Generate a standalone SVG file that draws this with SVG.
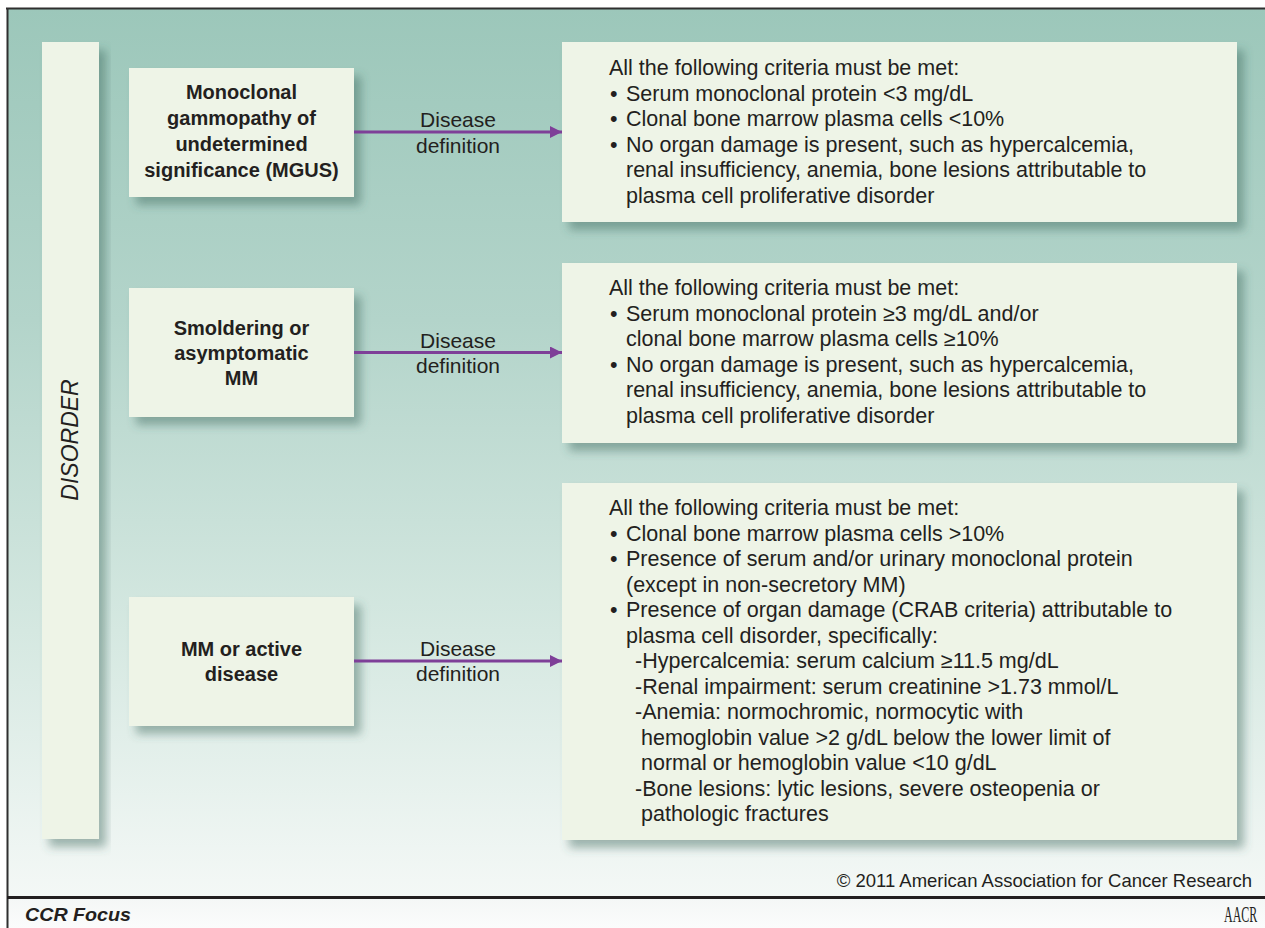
<svg xmlns="http://www.w3.org/2000/svg" width="1265" height="928" viewBox="0 0 1265 928">
  <style>
    .box { fill: #eef4e7; }
    .node-label { font-family: "Liberation Sans", Arial, sans-serif; font-size: 20px; font-weight: bold; fill: #231f20; text-anchor: middle; }
    .edge-label { font-family: "Liberation Sans", Arial, sans-serif; font-size: 21px; fill: #231f20; text-anchor: middle; }
    .crit { font-family: "Liberation Sans", Arial, sans-serif; font-size: 21.5px; fill: #231f20; }
    .conn { stroke: #7e3f98; stroke-width: 3; fill: none; }
  </style>
  <defs>
    <linearGradient id="bg" x1="0" y1="0" x2="0" y2="1">
      <stop offset="0" stop-color="#9cc7ba"/>
      <stop offset="0.35" stop-color="#b3d4ca"/>
      <stop offset="0.7" stop-color="#d5e8e1"/>
      <stop offset="1" stop-color="#f4f8f6"/>
    </linearGradient>
    <linearGradient id="foot" x1="0" y1="0" x2="0" y2="1">
      <stop offset="0" stop-color="#f4f7f6"/>
      <stop offset="1" stop-color="#fbfcfc"/>
    </linearGradient>
    <filter id="shadow" x="-20%" y="-20%" width="140%" height="140%">
      <feDropShadow dx="7" dy="8" stdDeviation="5" flood-color="#3b665c" flood-opacity="0.45"/>
    </filter>
    <marker id="arrow" markerUnits="userSpaceOnUse" markerWidth="14" markerHeight="14" refX="12" refY="6" orient="auto">
      <path d="M0,0 L12,6 L0,12 z" fill="#7e3f98"/>
    </marker>
  </defs>

  <!-- background and frame -->
  <rect x="0" y="0" width="1265" height="928" fill="#ffffff"/>
  <rect x="7" y="8" width="1258" height="890" fill="url(#bg)"/>
  <rect x="7" y="898" width="1258" height="30" fill="url(#foot)"/>
  <line x1="6" y1="8.5" x2="1265" y2="8.5" stroke="#2f2f2f" stroke-width="2"/>
  <line x1="7.5" y1="8" x2="7.5" y2="928" stroke="#2f2f2f" stroke-width="2"/>
  <line x1="7" y1="897.5" x2="1265" y2="897.5" stroke="#231f20" stroke-width="3"/>

  <!-- DISORDER bar -->
  <g id="disorder">
    <rect class="box" x="42" y="42" width="57" height="797" filter="url(#shadow)"/>
    <text transform="translate(78,440) rotate(-90)" font-family="'Liberation Sans', Arial, sans-serif" font-size="23" font-style="italic" fill="#231f20" text-anchor="middle">DISORDER</text>
  </g>

  <!-- left nodes -->
  <g id="mgus">
    <rect class="box" x="129" y="68" width="225" height="129" filter="url(#shadow)"/>
    <text class="node-label" x="241.5" y="99">Monoclonal</text>
    <text class="node-label" x="241.5" y="125">gammopathy of</text>
    <text class="node-label" x="241.5" y="151">undetermined</text>
    <text class="node-label" x="241.5" y="177">significance (MGUS)</text>
  </g>
  <g id="smoldering">
    <rect class="box" x="129" y="288" width="225" height="129" filter="url(#shadow)"/>
    <text class="node-label" x="241.5" y="335">Smoldering or</text>
    <text class="node-label" x="241.5" y="360">asymptomatic</text>
    <text class="node-label" x="241.5" y="385">MM</text>
  </g>
  <g id="active">
    <rect class="box" x="129" y="597" width="225" height="129" filter="url(#shadow)"/>
    <text class="node-label" x="241.5" y="656">MM or active</text>
    <text class="node-label" x="241.5" y="681">disease</text>
  </g>

  <!-- criteria nodes -->
  <g id="criteria-mgus">
    <rect class="box" x="562" y="42" width="675" height="180" filter="url(#shadow)"/>
    <text class="crit" x="609" y="75">All the following criteria must be met:</text>
    <text class="crit" x="610" y="100.6">•</text><text class="crit" x="626" y="100.6">Serum monoclonal protein &lt;3 mg/dL</text>
    <text class="crit" x="610" y="126.2">•</text><text class="crit" x="626" y="126.2">Clonal bone marrow plasma cells &lt;10%</text>
    <text class="crit" x="610" y="151.8">•</text><text class="crit" x="626" y="151.8">No organ damage is present, such as hypercalcemia,</text>
    <text class="crit" x="626" y="177.4">renal insufficiency, anemia, bone lesions attributable to</text>
    <text class="crit" x="626" y="203">plasma cell proliferative disorder</text>
  </g>
  <g id="criteria-smoldering">
    <rect class="box" x="562" y="263" width="675" height="180" filter="url(#shadow)"/>
    <text class="crit" x="609" y="295">All the following criteria must be met:</text>
    <text class="crit" x="610" y="320.6">•</text><text class="crit" x="626" y="320.6">Serum monoclonal protein ≥3 mg/dL and/or</text>
    <text class="crit" x="626" y="346.2">clonal bone marrow plasma cells ≥10%</text>
    <text class="crit" x="610" y="371.8">•</text><text class="crit" x="626" y="371.8">No organ damage is present, such as hypercalcemia,</text>
    <text class="crit" x="626" y="397.4">renal insufficiency, anemia, bone lesions attributable to</text>
    <text class="crit" x="626" y="423">plasma cell proliferative disorder</text>
  </g>
  <g id="criteria-active">
    <rect class="box" x="562" y="483" width="675" height="357" filter="url(#shadow)"/>
    <text class="crit" x="609" y="515">All the following criteria must be met:</text>
    <text class="crit" x="610" y="540.5">•</text><text class="crit" x="626" y="540.5">Clonal bone marrow plasma cells &gt;10%</text>
    <text class="crit" x="610" y="566">•</text><text class="crit" x="626" y="566">Presence of serum and/or urinary monoclonal protein</text>
    <text class="crit" x="626" y="591.5">(except in non-secretory MM)</text>
    <text class="crit" x="610" y="617">•</text><text class="crit" x="626" y="617">Presence of organ damage (CRAB criteria) attributable to</text>
    <text class="crit" x="626" y="642.5">plasma cell disorder, specifically:</text>
    <text class="crit" x="635" y="668">-Hypercalcemia: serum calcium ≥11.5 mg/dL</text>
    <text class="crit" x="635" y="693.5">-Renal impairment: serum creatinine &gt;1.73 mmol/L</text>
    <text class="crit" x="635" y="719">-Anemia: normochromic, normocytic with</text>
    <text class="crit" x="641" y="744.5">hemoglobin value &gt;2 g/dL below the lower limit of</text>
    <text class="crit" x="641" y="770">normal or hemoglobin value &lt;10 g/dL</text>
    <text class="crit" x="635" y="795.5">-Bone lesions: lytic lesions, severe osteopenia or</text>
    <text class="crit" x="641" y="821">pathologic fractures</text>
  </g>

  <!-- connectors -->
  <g id="connectors">
    <line class="conn" x1="354" y1="132" x2="562" y2="132" marker-end="url(#arrow)"/>
    <text class="edge-label" x="458" y="127">Disease</text>
    <text class="edge-label" x="458" y="153">definition</text>
    <line class="conn" x1="354" y1="352.5" x2="562" y2="352.5" marker-end="url(#arrow)"/>
    <text class="edge-label" x="458" y="348">Disease</text>
    <text class="edge-label" x="458" y="373">definition</text>
    <line class="conn" x1="354" y1="661" x2="562" y2="661" marker-end="url(#arrow)"/>
    <text class="edge-label" x="458" y="656">Disease</text>
    <text class="edge-label" x="458" y="681">definition</text>
  </g>

  <!-- footer -->
  <text x="1252" y="887" font-family="'Liberation Sans', Arial, sans-serif" font-size="18.5" fill="#231f20" text-anchor="end">© 2011 American Association for Cancer Research</text>
  <text x="25" y="921" font-family="'Liberation Sans', Arial, sans-serif" font-size="18" font-weight="bold" font-style="italic" fill="#231f20" textLength="106" lengthAdjust="spacingAndGlyphs">CCR Focus</text>
  <text transform="translate(1224,922) scale(0.5,1)" font-family="'Liberation Serif', 'Times New Roman', serif" font-size="24" fill="#231f20">AACR</text>
</svg>
